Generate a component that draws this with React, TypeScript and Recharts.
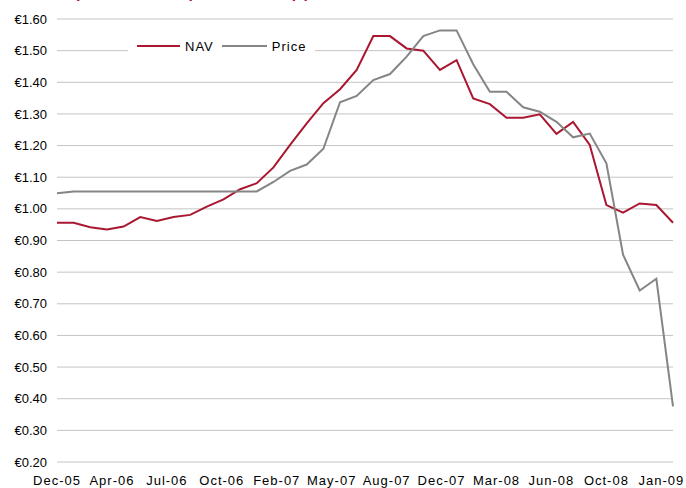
import { LineChart, Line, XAxis, YAxis, CartesianGrid } from "recharts";

const MONTHS = [
  "Dec-05", "Jan-06", "Feb-06", "Mar-06", "Apr-06", "May-06", "Jun-06", "Jul-06",
  "Aug-06", "Sep-06", "Oct-06", "Nov-06", "Dec-06", "Jan-07", "Feb-07", "Mar-07",
  "Apr-07", "May-07", "Jun-07", "Jul-07", "Aug-07", "Sep-07", "Oct-07", "Nov-07",
  "Dec-07", "Jan-08", "Feb-08", "Mar-08", "Apr-08", "May-08", "Jun-08", "Jul-08",
  "Aug-08", "Sep-08", "Oct-08", "Nov-08", "Dec-08", "Jan-09",
];

const NAV = [
  0.956, 0.956, 0.942, 0.935, 0.944, 0.974, 0.962, 0.974, 0.981, 1.007, 1.03, 1.062,
  1.081, 1.131, 1.202, 1.27, 1.334, 1.378, 1.439, 1.546, 1.546, 1.507, 1.5, 1.439,
  1.47, 1.349, 1.331, 1.288, 1.288, 1.299, 1.237, 1.275, 1.202, 1.012, 0.988, 1.017,
  1.012, 0.956,
];

const PRICE = [
  1.049, 1.055, 1.055, 1.055, 1.055, 1.055, 1.055, 1.055, 1.055, 1.055, 1.055, 1.055,
  1.055, 1.085, 1.12, 1.14, 1.19, 1.337, 1.357, 1.407, 1.426, 1.481, 1.546, 1.564,
  1.564, 1.457, 1.37, 1.37, 1.321, 1.307, 1.275, 1.226, 1.238, 1.144, 0.855, 0.742,
  0.779, 0.376,
];

const TICK_LABELS = [
  "Dec-05", "Apr-06", "Jul-06", "Oct-06", "Feb-07", "May-07",
  "Aug-07", "Dec-07", "Mar-08", "Jun-08", "Oct-08", "Jan-09",
];

const Y_TICKS = [0.2, 0.3, 0.4, 0.5, 0.6, 0.7, 0.8, 0.9, 1.0, 1.1, 1.2, 1.3, 1.4, 1.5, 1.6];

const RED = "#aa1731";
const GREY = "#858585";
const FONT = "'Liberation Sans', Arial, sans-serif";

// x axis is a date axis in the source: labels every ~100 days, not on data points
const X_TICKS = TICK_LABELS.map((_, i) => i * 3.3);

const data = MONTHS.map((m, i) => ({ idx: i, month: m, nav: NAV[i], price: PRICE[i] }));

function LegendBox() {
  const item = (color: string, label: string, lineW: number) => (
    <span style={{ display: "flex", alignItems: "center" }}>
      <span style={{ display: "inline-block", width: lineW, height: 2, background: color, marginRight: 5 }} />
      <span style={{ letterSpacing: 1 }}>{label}</span>
    </span>
  );
  return (
    <div
      style={{
        position: "absolute",
        left: 128,
        top: 37,
        display: "flex",
        alignItems: "center",
        gap: 8,
        background: "#fff",
        padding: "0 9px",
        height: 18,
        fontFamily: FONT,
        fontSize: 13,
        color: "#000",
      }}
    >
      {item(RED, "NAV", 43)}
      {item(GREY, "Price", 45)}
    </div>
  );
}

export default function App() {
  return (
    <div style={{ position: "absolute", left: 0, top: 0, width: 686, height: 488, overflow: "hidden", background: "#fff" }}>
      <LineChart
        width={686}
        height={488}
        data={data}
        margin={{ top: 19, right: 13, left: 0, bottom: 0 }}
      >
        <CartesianGrid vertical={false} stroke="#c4c4c4" strokeWidth={1} />
        <XAxis
          dataKey="idx"
          type="number"
          domain={[0, 37]}
          ticks={X_TICKS}
          interval={0}
          tickFormatter={(v: number) => TICK_LABELS[Math.round(v / 3.3)]}
          axisLine={false}
          tickLine={false}
          tickSize={0}
          tickMargin={14}
          height={26}
          tick={{ fontSize: 13, fill: "#000", fontFamily: FONT, letterSpacing: 1 }}
        />
        <YAxis
          domain={[0.2, 1.6]}
          ticks={Y_TICKS}
          interval={0}
          tickFormatter={(v: number) => `€${v.toFixed(2)}`}
          axisLine={false}
          tickLine={false}
          tickSize={0}
          tickMargin={10}
          width={57}
          tick={{ fontSize: 13, fill: "#000", fontFamily: FONT }}
        />
        <Line
          type="linear"
          dataKey="nav"
          name="NAV"
          stroke={RED}
          strokeWidth={2}
          dot={false}
          isAnimationActive={false}
        />
        <Line
          type="linear"
          dataKey="price"
          name="Price"
          stroke={GREY}
          strokeWidth={2}
          dot={false}
          isAnimationActive={false}
        />
      </LineChart>
      <LegendBox />
      <div
        style={{
          position: "absolute",
          left: 27,
          top: -15,
          fontFamily: FONT,
          fontWeight: "bold",
          fontSize: 16,
          lineHeight: "16px",
          color: RED,
          whiteSpace: "nowrap",
        }}
      >
        Share price and NAV performance (€)
      </div>
    </div>
  );
}
